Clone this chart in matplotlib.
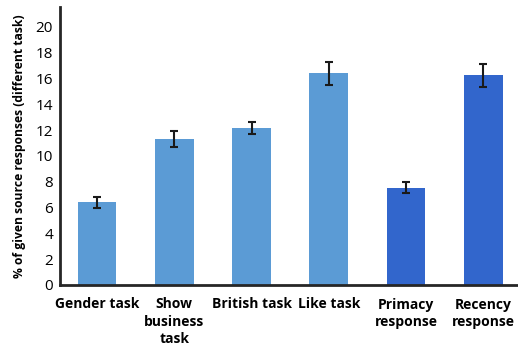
import numpy as np
import matplotlib.pyplot as plt

categories = ["Gender task", "Show\nbusiness\ntask", "British task", "Like task",
              "Primacy\nresponse", "Recency\nresponse"]
values = [6.4, 11.3, 12.15, 16.4, 7.55, 16.25]
errors = [0.4, 0.6, 0.45, 0.9, 0.4, 0.9]
colors = ["#5B9BD5"] * 4 + ["#3266CC"] * 2

plt.rcParams['font.family'] = ['Open Sans', 'DejaVu Sans']

fig = plt.figure(figsize=(5.18, 3.5), dpi=100)
ax = fig.add_axes([60 / 518, 65 / 350, 458 / 518, 278 / 350])

x = np.arange(len(categories))
ax.bar(x, values, width=0.5, color=colors, zorder=2)
ax.errorbar(x, values, yerr=errors, fmt='none', ecolor='#1a1a1a',
            elinewidth=1.5, capsize=3, capthick=1.5, zorder=3)

ax.set_xlim(-0.48, 5.45)
ax.set_ylim(0, 21.55)
ax.set_yticks(range(0, 21, 2))
ax.set_xticks(x)
ax.set_xticklabels(categories, fontsize=10, fontweight='bold', linespacing=1.3)
ax.tick_params(axis='y', labelsize=11, length=0, pad=5)
ax.tick_params(axis='x', length=0, pad=9)

ax.set_ylabel("% of given source responses (different task)", fontsize=8.7,
              fontweight='bold', labelpad=7)

for side in ['top', 'right']:
    ax.spines[side].set_visible(False)
for side in ['left', 'bottom']:
    ax.spines[side].set_linewidth(2)
    ax.spines[side].set_color('#262626')

fig.savefig("out.png", dpi=100)
